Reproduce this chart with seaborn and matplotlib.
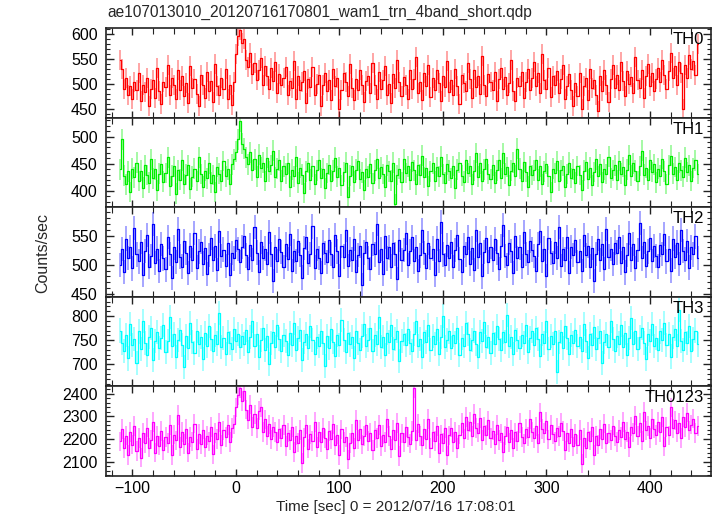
import numpy as np
import matplotlib
matplotlib.use("Agg")
import matplotlib.pyplot as plt
import seaborn as sns
from matplotlib.ticker import MultipleLocator

# ---------------- data (2 s bins) ----------------
title = "ae107013010_20120716170801_wam1_trn_4band_short.qdp"
xlabel = "Time [sec] 0 = 2012/07/16 17:08:01"
ylabel = "Counts/sec"
panel_names = ["TH0", "TH1", "TH2", "TH3", "TH0123"]
t_first = -112.0
bin_width = 2.0

th0 = [
    548, 530, 489, 512, 478, 495, 470, 503, 488, 521, 466, 497, 483, 512, 455, 490, 507, 472, 531, 486,
    459, 503, 494, 538, 478, 512, 497, 469, 527, 488, 515, 476, 502, 461, 535, 492, 509, 480, 455, 517,
    498, 471, 524, 486, 506, 463, 540, 495, 478, 512, 489, 529, 470, 497, 458, 503, 560, 595, 608, 582,
    590, 548, 533, 562, 520, 541, 507, 528, 552, 498, 536, 515, 489, 531, 506, 544, 482, 520, 497, 512,
    534, 478, 505, 491, 546, 470, 515, 488, 503, 526, 462, 509, 494, 533, 477, 500, 518, 456, 497, 522,
    485, 508, 467, 530, 495, 512, 449, 488, 521, 503, 476, 539, 492, 468, 510, 487, 527, 498, 463, 505,
    516, 482, 541, 497, 470, 523, 489, 508, 535, 478, 500, 462, 519, 491, 548, 503, 476, 514, 497, 470,
    528, 489, 510, 553, 481, 504, 467, 522, 496, 538, 473, 511, 488, 527, 502, 466, 516, 493, 545, 484,
    507, 478, 530, 495, 459, 518, 502, 486, 541, 510, 472, 527, 493, 515, 480, 556, 498, 475, 519, 504,
    487, 524, 466, 509, 532, 490, 513, 478, 501, 547, 485, 466, 511, 495, 524, 472, 503, 529, 488, 512,
    543, 496, 521, 481, 560, 507, 489, 532, 474, 515, 498, 526, 482, 509, 537, 470, 495, 519, 488, 455,
    501, 476, 522, 449, 496, 512, 468, 530, 491, 507, 477, 445, 515, 486, 528, 497, 463, 510, 538, 492,
    518, 487, 543, 505, 475, 526, 499, 514, 482, 553, 508, 491, 527, 472, 516, 539, 495, 521, 486, 510,
    532, 503, 548, 517, 490, 526, 562, 511, 535, 498, 544, 521, 449, 538, 512, 557, 529, 546, 518, 580,
]
th1 = [
    440, 495, 428, 412, 436, 398, 441, 425, 452, 418, 437, 406, 447, 429, 415, 458, 423, 440, 401, 432,
    449, 417, 433, 462, 409, 428, 445, 395, 438, 421, 456, 413, 430, 447, 404, 426, 441, 418, 462, 431,
    408, 437, 423, 451, 415, 429, 398, 444, 432, 419, 455, 427, 440, 412, 449, 458, 472, 495, 528, 487,
    478, 462, 449, 471, 438, 458, 426, 467, 443, 452, 418, 461, 436, 448, 474, 425, 441, 456, 419, 445,
    432, 451, 408, 439, 427, 463, 415, 442, 430, 396, 436, 452, 421, 445, 412, 438, 457, 424, 441, 405,
    433, 448, 419, 437, 461, 426, 443, 410, 435, 452, 388, 428, 446, 417, 439, 455, 422, 434, 402, 441,
    426, 450, 414, 438, 459, 423, 444, 431, 408, 447, 436, 419, 452, 375, 429, 441, 416, 458, 433, 445,
    421, 454, 438, 412, 447, 430, 465, 425, 442, 409, 436, 451, 418, 444, 427, 463, 431, 415, 449, 437,
    424, 446, 405, 439, 452, 428, 417, 456, 433, 445, 412, 437, 470, 426, 451, 418, 440, 458, 431, 422,
    447, 415, 438, 456, 423, 469, 432, 444, 410, 437, 452, 428, 478, 441, 419, 453, 435, 408, 446, 429,
    438, 457, 421, 445, 412, 436, 450, 427, 398, 441, 433, 455, 419, 438, 446, 408, 431, 452, 424, 440,
    415, 446, 429, 401, 437, 453, 422, 443, 410, 435, 458, 427, 449, 416, 440, 431, 463, 424, 438, 447,
    420, 455, 432, 444, 411, 439, 466, 428, 451, 437, 418, 446, 474, 430, 443, 421, 457, 435, 449, 416,
    441, 428, 459, 436, 413, 448, 465, 432, 444, 420, 452, 438, 426, 461, 435, 447, 418, 442, 456, 431,
]
th2 = [
    500, 527, 488, 545, 512, 531, 494, 563, 518, 506, 539, 482, 524, 551, 497, 515, 570, 503, 528, 489,
    536, 511, 492, 548, 519, 477, 530, 505, 562, 514, 497, 541, 520, 486, 533, 508, 555, 495, 523, 540,
    502, 529, 484, 517, 546, 509, 532, 491, 558, 515, 526, 498, 537, 482, 520, 511, 543, 527, 505, 531,
    549, 516, 493, 534, 508, 565, 521, 487, 539, 512, 528, 501, 556, 518, 472, 530, 507, 544, 522, 496,
    535, 510, 553, 489, 524, 506, 541, 517, 478, 529, 547, 503, 518, 566, 495, 527, 512, 486, 538, 520,
    505, 542, 519, 496, 551, 523, 480, 532, 514, 560, 498, 526, 509, 545, 488, 517, 533, 465, 521, 540,
    512, 493, 536, 518, 570, 504, 527, 485, 549, 511, 530, 497, 538, 519, 476, 543, 508, 525, 555, 499,
    523, 547, 506, 531, 489, 516, 559, 520, 495, 537, 512, 528, 483, 545, 507, 574, 518, 500, 534, 511,
    539, 496, 525, 552, 510, 487, 533, 518, 547, 502, 529, 491, 560, 514, 537, 480, 522, 546, 505, 531,
    508, 544, 521, 493, 532, 568, 515, 499, 538, 524, 486, 550, 511, 530, 497, 556, 519, 504, 541, 526,
    515, 490, 535, 558, 507, 528, 481, 546, 520, 503, 539, 512, 565, 498, 527, 509, 548, 486, 531, 517,
    542, 505, 524, 489, 551, 516, 533, 497, 529, 472, 519, 545, 508, 536, 493, 562, 514, 527, 501, 538,
    521, 548, 503, 530, 487, 517, 555, 509, 536, 494, 525, 572, 511, 540, 498, 523, 546, 507, 532, 515,
    497, 534, 519, 553, 506, 528, 490, 545, 513, 538, 501, 560, 524, 509, 541, 495, 530, 518, 549, 512,
]
th3 = [
    770, 745, 728, 761, 712, 783, 739, 752, 703, 768, 731, 790, 744, 720, 757, 776, 708, 749, 766, 733,
    755, 782, 726, 748, 798, 737, 763, 715, 751, 772, 740, 694, 759, 733, 785, 747, 724, 769, 741, 756,
    711, 764, 738, 779, 752, 727, 760, 743, 806, 735, 754, 721, 767, 745, 731, 773, 749, 762, 736, 758,
    742, 771, 725, 756, 789, 737, 762, 714, 750, 776, 730, 758, 701, 744, 767, 735, 781, 752, 727, 760,
    748, 719, 765, 740, 786, 729, 754, 771, 708, 746, 763, 734, 779, 751, 722, 757, 738, 768, 745, 697,
    758, 733, 774, 747, 718, 761, 739, 792, 750, 726, 765, 741, 756, 712, 770, 744, 729, 759, 783, 737,
    751, 775, 728, 760, 743, 798, 735, 757, 720, 764, 746, 781, 732, 753, 769, 706, 748, 762, 739, 773,
    744, 727, 763, 789, 738, 752, 716, 766, 747, 781, 730, 759, 742, 774, 721, 757, 801, 736, 750, 768,
    733, 760, 745, 776, 719, 754, 738, 785, 762, 729, 751, 770, 743, 715, 766, 749, 788, 735, 757, 724,
    764, 741, 779, 753, 730, 767, 746, 803, 738, 756, 721, 772, 750, 734, 761, 744, 782, 726, 755, 769,
    739, 775, 752, 718, 763, 745, 790, 731, 758, 742, 770, 684, 747, 766, 733, 779, 754, 722, 760, 745,
    771, 738, 756, 727, 784, 749, 713, 762, 740, 777, 731, 754, 768, 702, 746, 763, 735, 789, 752, 728,
    759, 743, 781, 736, 765, 720, 754, 796, 741, 768, 732, 757, 775, 744, 710, 762, 748, 783, 737, 755,
    729, 768, 751, 785, 740, 763, 716, 757, 774, 738, 812, 749, 730, 766, 744, 779, 727, 753, 770, 741,
]
th0123 = [
    2190, 2245, 2160, 2215, 2130, 2232, 2175, 2258, 2148, 2205, 2118, 2226, 2183, 2250, 2162, 2197, 2275, 2140, 2214, 2171,
    2236, 2152, 2208, 2183, 2262, 2129, 2219, 2194, 2305, 2166, 2231, 2178, 2245, 2140, 2210, 2189, 2268, 2157, 2222, 2176,
    2241, 2163, 2215, 2190, 2254, 2132, 2227, 2201, 2273, 2175, 2238, 2209, 2262, 2188, 2248, 2265, 2340, 2395, 2425, 2368,
    2410, 2330, 2286, 2352, 2255, 2309, 2248, 2325, 2340, 2230, 2287, 2215, 2265, 2198, 2252, 2230, 2189, 2244, 2206, 2261,
    2170, 2228, 2196, 2253, 2142, 2215, 2184, 2239, 2095, 2207, 2263, 2158, 2221, 2192, 2276, 2165, 2230, 2187, 2248, 2203,
    2156, 2235, 2198, 2265, 2172, 2219, 2130, 2243, 2188, 2208, 2110, 2182, 2225, 2162, 2283, 2197, 2242, 2176, 2214, 2260,
    2192, 2228, 2151, 2238, 2205, 2262, 2170, 2219, 2187, 2290, 2213, 2158, 2240, 2196, 2270, 2126, 2225, 2185, 2252, 2208,
    2180, 2236, 2424, 2196, 2268, 2214, 2172, 2245, 2201, 2288, 2160, 2232, 2192, 2256, 2138, 2221, 2184, 2247, 2128, 2216,
    2250, 2186, 2232, 2160, 2219, 2271, 2203, 2296, 2238, 2275, 2214, 2310, 2249, 2228, 2293, 2196, 2256, 2218, 2282, 2205,
    2237, 2178, 2262, 2196, 2225, 2143, 2215, 2251, 2185, 2240, 2162, 2229, 2192, 2270, 2208, 2181, 2244, 2211, 2287, 2230,
    2204, 2256, 2181, 2317, 2245, 2226, 2278, 2198, 2262, 2221, 2190, 2248, 2213, 2272, 2235, 2150, 2228, 2184, 2246, 2168,
    2222, 2175, 2240, 2092, 2206, 2160, 2233, 2193, 2251, 2130, 2214, 2175, 2242, 2201, 2268, 2183, 2225, 2196, 2259, 2212,
    2186, 2240, 2210, 2276, 2198, 2232, 2165, 2255, 2228, 2303, 2215, 2270, 2193, 2320, 2238, 2258, 2204, 2289, 2246, 2218,
    2274, 2230, 2295, 2168, 2252, 2216, 2340, 2247, 2282, 2228, 2270, 2205, 2298, 2252, 2316, 2238, 2264, 2290, 2226, 2258,
]
errors = [20, 19, 21, 25, 43]          # typical 1-sigma error per band
series = [th0, th1, th2, th3, th0123]

# ---------------- styling ----------------
colors = ["#ff0000", "#00ee00", "#0000ff", "#00ffff", "#ff00ff"]
ylims = [(432, 611), (370, 535), (445, 599), (654, 840), (2037, 2432)]
ymajor = [50, 50, 50, 50, 100]
yminor = [10, 10, 10, 10, 20]

sns.set_theme(style="ticks")
plt.rcParams["font.family"] = ["Liberation Sans", "DejaVu Sans"]

fig, axes = plt.subplots(5, 1, sharex=True, figsize=(7.17, 5.16), dpi=100)
fig.subplots_adjust(left=106 / 717, right=711 / 717, top=1 - 28 / 516,
                    bottom=1 - 476 / 516, hspace=0)

for ax, vals, err, col, name, yl, ma, mi in zip(axes, series, errors, colors,
                                                 panel_names, ylims, ymajor, yminor):
    v = np.asarray(vals, dtype=float)
    t = t_first + bin_width * np.arange(len(v))
    ax.vlines(t, v - err, v + err, color=col, alpha=0.45, lw=1.1, zorder=1)
    sns.lineplot(x=t, y=v, ax=ax, color=col, lw=0.9, drawstyle="steps-mid",
                 estimator=None, sort=False, zorder=2)
    ax.set_ylim(*yl)
    ax.set_xlim(-125.5, 459)
    ax.yaxis.set_major_locator(MultipleLocator(ma))
    ax.yaxis.set_minor_locator(MultipleLocator(mi))
    ax.xaxis.set_major_locator(MultipleLocator(100))
    ax.xaxis.set_minor_locator(MultipleLocator(20))
    ax.tick_params(which="both", direction="in", top=True, right=True,
                   colors="#222222", labelcolor="black", labelsize=11.5)
    ax.tick_params(axis="y", which="major", length=6, width=1.0, pad=6)
    ax.tick_params(axis="y", which="minor", length=3, width=0.8)
    ax.tick_params(axis="x", which="major", length=5, width=1.0)
    ax.tick_params(axis="x", which="minor", length=4, width=0.8)
    ax.set_ylabel("")
    ax.set_xlabel("")
    for s in ax.spines.values():
        s.set_linewidth(1.2)
        s.set_color("#222222")
    ax.text(0.988, 0.955, name, transform=ax.transAxes, ha="right", va="top",
            fontsize=12, color="black")

fig.text(396 / 717, 1 - 507 / 516, xlabel, ha="center", va="center", fontsize=11)
fig.text(107 / 717, 1 - 12 / 516, title, ha="left", va="center", fontsize=11.2)
fig.text(43 / 717, 1 - 253 / 516, ylabel, rotation=90, ha="center",
         va="center", fontsize=11.5)

fig.savefig("out.png", dpi=100)
